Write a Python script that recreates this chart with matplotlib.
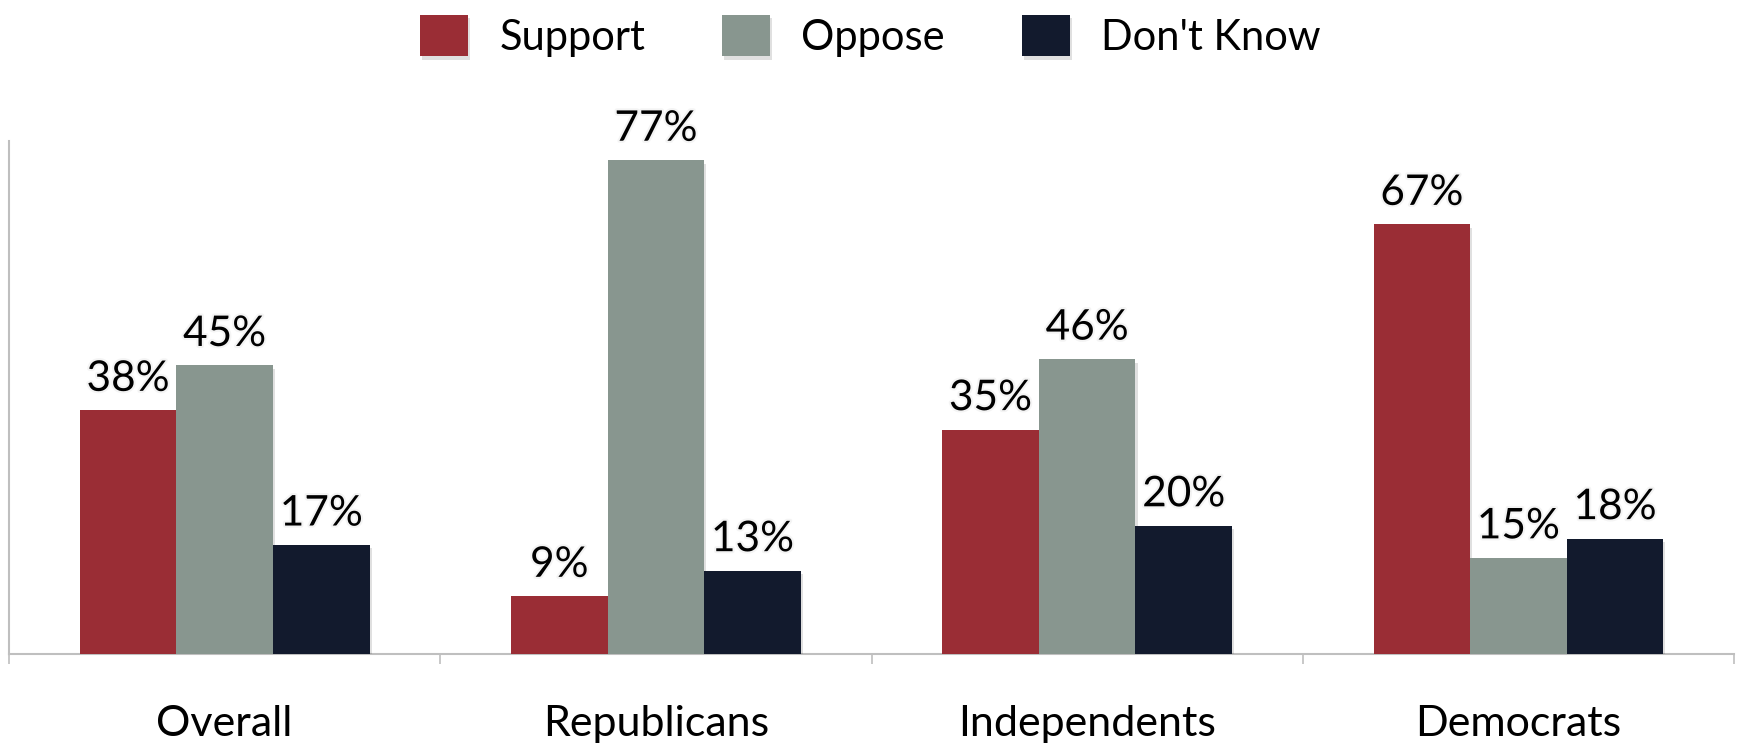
import numpy as np
import matplotlib
matplotlib.use("Agg")
import matplotlib.pyplot as plt
import matplotlib.patheffects as pe

plt.rcParams['font.family'] = ['Lato', 'DejaVu Sans']

groups = ['Overall', 'Republicans', 'Independents', 'Democrats']
series = ['Support', 'Oppose', "Don't Know"]
support = [38, 9, 35, 67]
oppose = [45, 77, 46, 15]
dont_know = [17, 13, 20, 18]
colors = ['#9A2D35', '#88968F', '#121A2D']

fig = plt.figure(figsize=(17.41, 7.45), dpi=100)
ax = fig.add_axes([0.0052, 0.1221, 0.9908, 0.6886])

x = np.arange(len(groups))
w = 0.224
shadow = [pe.SimplePatchShadow(offset=(1.5, -2.5), shadow_rgbFace='#000000', alpha=0.12), pe.Normal()]
txt_fx = [pe.withStroke(linewidth=3, foreground='#f4f4f4')]

for i, (vals, name) in enumerate(zip([support, oppose, dont_know], series)):
    bars = ax.bar(x + (i - 1) * w, vals, w, color=colors[i], label=name, zorder=3)
    for b in bars:
        b.set_path_effects(shadow)
    for b, v in zip(bars, vals):
        ax.annotate(f'{v}%', (b.get_x() + b.get_width() / 2, v), xytext=(0, 9),
                    textcoords='offset points', ha='center', va='bottom',
                    fontsize=30.5, path_effects=txt_fx, zorder=4)

ax.set_xlim(-0.5, len(groups) - 0.5)
ax.set_ylim(0, 80)
ax.set_yticks([])
ax.set_xticks(x)
ax.set_xticklabels(groups, fontsize=31)
ax.tick_params(axis='x', which='major', length=0, pad=37)
ax.set_xticks(np.arange(-0.5, len(groups)), minor=True)
ax.tick_params(axis='x', which='minor', length=7, color='#BFBFBF', width=1.2)
for s in ['top', 'right']:
    ax.spines[s].set_visible(False)
for s in ['left', 'bottom']:
    ax.spines[s].set_color('#BFBFBF')
    ax.spines[s].set_linewidth(1.5)

fig.legend(loc='center', bbox_to_anchor=(0.5, 0.952), ncol=3, frameon=False,
           fontsize=30, handlelength=1.15, handleheight=1.15, handletextpad=0.75,
           columnspacing=1.85)

fig.savefig('out.png', dpi=100)
